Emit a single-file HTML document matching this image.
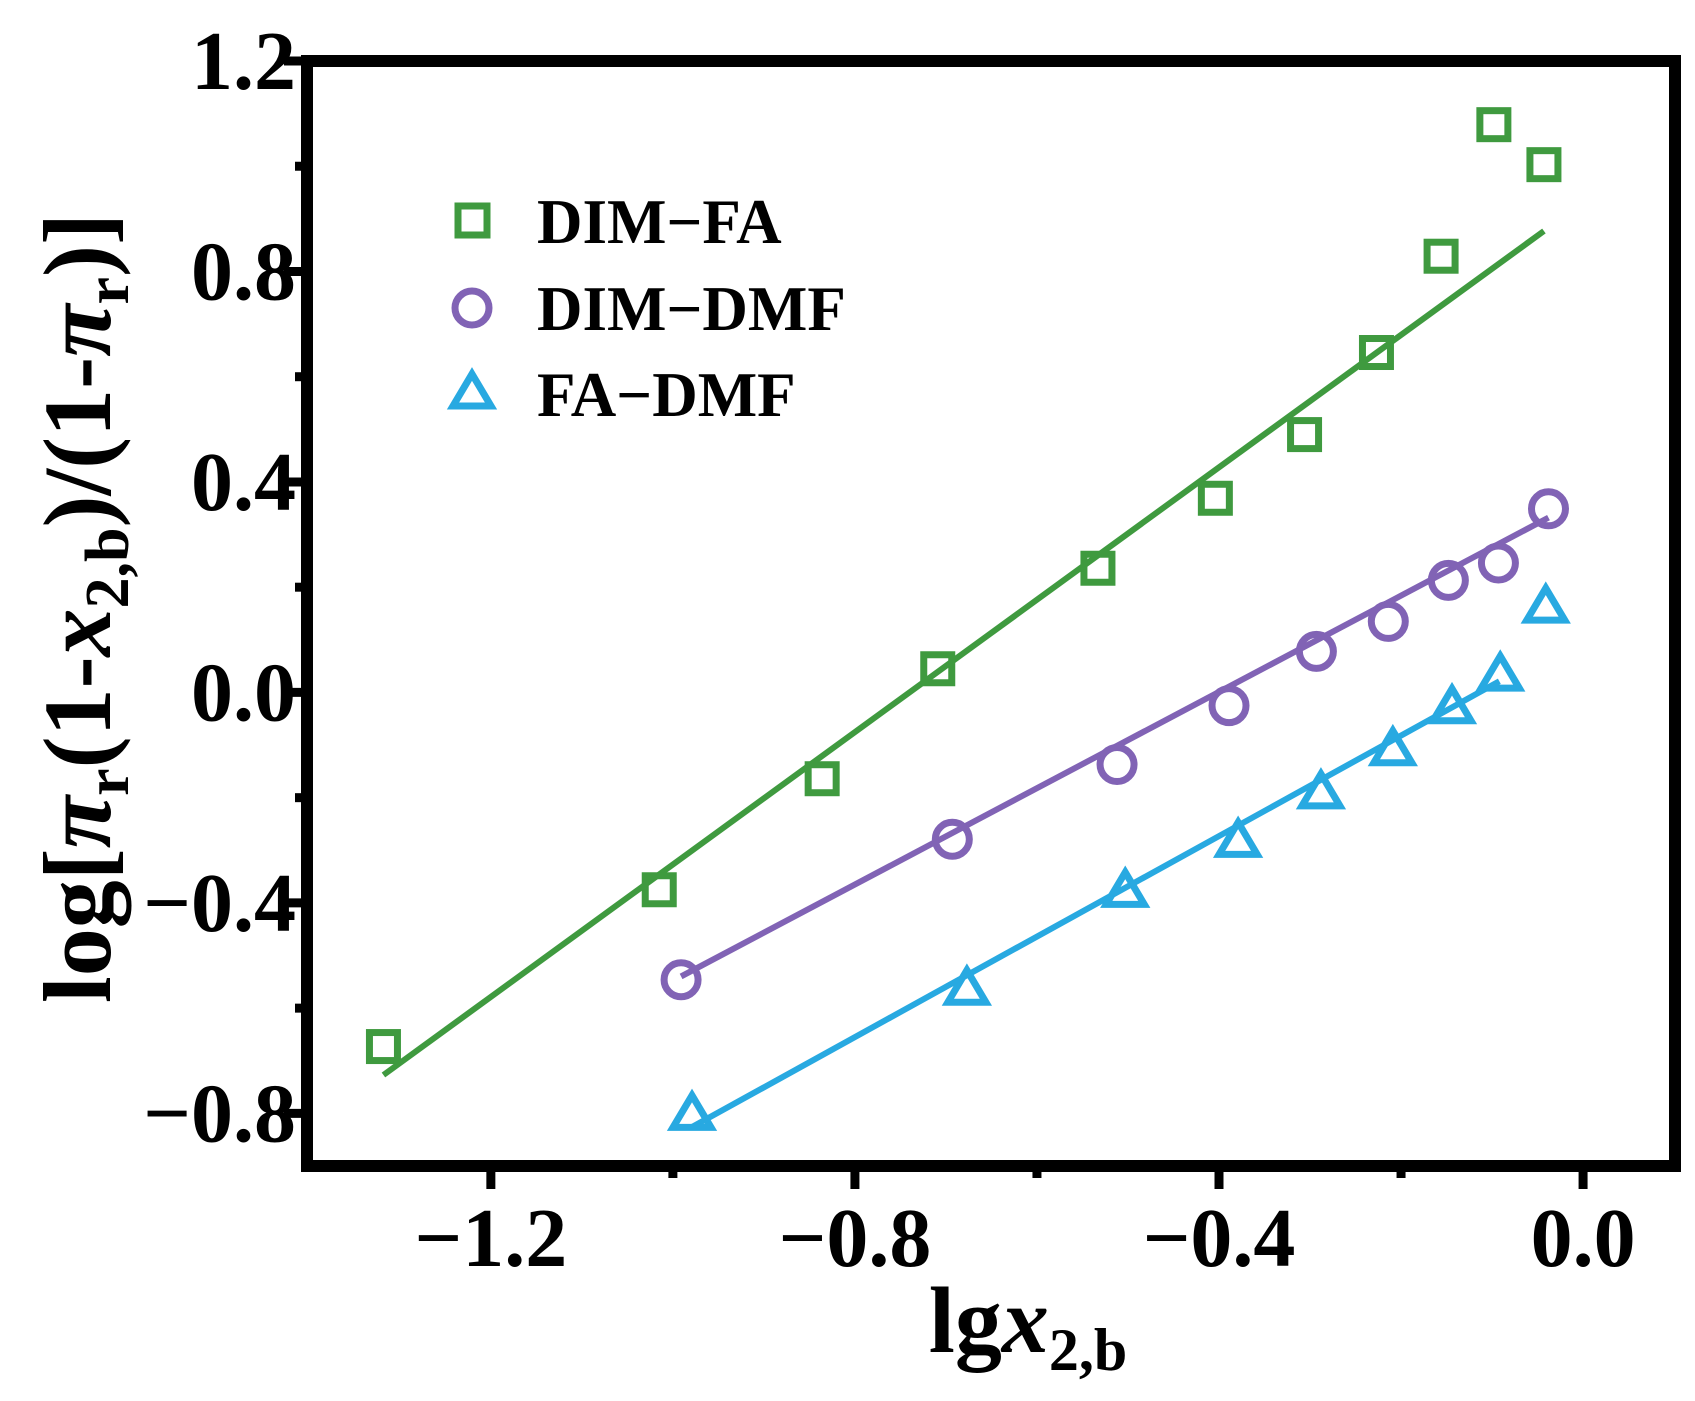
<!DOCTYPE html>
<html><head><meta charset="utf-8"><style>
html,body{margin:0;padding:0;background:#fff;}
svg{display:block;font-family:"Liberation Serif",serif;font-weight:bold;}
</style></head><body>
<svg id="chart" width="1695" height="1401" viewBox="0 0 1695 1401" xmlns="http://www.w3.org/2000/svg">
<rect x="0" y="0" width="1695" height="1401" fill="#fff"/>
<g id="marks"></g>
<g id="axes"></g>
<text transform="translate(110,608) rotate(-90)" text-anchor="middle" font-size="96">log[<tspan font-style="italic">π</tspan><tspan font-size="62" dy="18">r</tspan><tspan dy="-18">(1-</tspan><tspan font-style="italic">x</tspan><tspan font-size="62" dy="18">2,b</tspan><tspan dy="-18">)/(1-</tspan><tspan font-style="italic">π</tspan><tspan font-size="62" dy="18">r</tspan><tspan dy="-18">)]</tspan></text>
<text x="1028" y="1352" text-anchor="middle" font-size="94">lg<tspan font-style="italic">x</tspan><tspan font-size="60" dy="18">2,b</tspan></text>
<g>
<rect x="458" y="206" width="29" height="29" fill="none" stroke="#3f9a3f" stroke-width="7"/>
<text x="537" y="243" font-size="63">DIM−FA</text>
<circle cx="472" cy="308" r="17" fill="none" stroke="#8163b5" stroke-width="7"/>
<text x="537" y="330" font-size="63">DIM−DMF</text>
<polygon points="472,374 491,406 453,406" fill="none" stroke="#28a9e1" stroke-width="7"/>
<text x="537" y="416" font-size="63">FA−DMF</text>
</g>
</svg>
<script>
const xTicks = [-1.2, -0.8, -0.4, 0.0];
const xTickLabels = ["−1.2", "−0.8", "−0.4", "0.0"];
const xMinor = [-1.0, -0.6, -0.2];
const yTicks = [-0.8, -0.4, 0.0, 0.4, 0.8, 1.2];
const yTickLabels = ["−0.8", "−0.4", "0.0", "0.4", "0.8", "1.2"];
const yMinor = [-0.6, -0.2, 0.2, 0.6, 1.0];

const dimFaX = [-1.318, -1.015, -0.836, -0.709, -0.533, -0.404, -0.306, -0.227, -0.156, -0.098, -0.043];
const dimFaY = [-0.673, -0.375, -0.164, 0.045, 0.236, 0.369, 0.490, 0.646, 0.829, 1.079, 1.003];
const dimFaFit = [1.258, 0.931, -1.318, -0.043];

const dimDmfX = [-0.991, -0.693, -0.512, -0.389, -0.293, -0.214, -0.148, -0.093, -0.038];
const dimDmfY = [-0.546, -0.279, -0.137, -0.025, 0.078, 0.135, 0.213, 0.246, 0.349];
const dimDmfFit = [0.915, 0.367, -0.991, -0.038];

const faDmfX = [-0.979, -0.677, -0.503, -0.379, -0.288, -0.209, -0.144, -0.091, -0.041];
const faDmfY = [-0.802, -0.564, -0.378, -0.283, -0.191, -0.109, -0.029, 0.033, 0.162];
const faDmfFit = [0.955, 0.109, -0.979, -0.092];

const NS = "http://www.w3.org/2000/svg";
const L = 307, R = 1675, T = 61, B = 1166;
const xMin = -1.402, xMax = 0.101, yMin = -0.9, yMax = 1.2;
function sx(v){ return L + (v - xMin) / (xMax - xMin) * (R - L); }
function sy(v){ return B - (v - yMin) / (yMax - yMin) * (B - T); }
function mk(tag, attrs, parent){ const e = document.createElementNS(NS, tag); for (const k in attrs) e.setAttribute(k, attrs[k]); parent.appendChild(e); return e; }

const marks = document.getElementById('marks');
const axes = document.getElementById('axes');

function fitLine(fit, color, name){
  const ln = mk('line', {x1: sx(fit[2]), y1: sy(fit[0]*fit[2]+fit[1]), x2: sx(fit[3]), y2: sy(fit[0]*fit[3]+fit[1]), stroke: color, 'stroke-width': 6}, marks);
  
  
}
fitLine(dimFaFit, '#3f9a3f', 'fit-line-dim-fa');
fitLine(dimDmfFit, '#8163b5', 'fit-line-dim-dmf');
fitLine(faDmfFit, '#28a9e1', 'fit-line-fa-dmf');

dimFaX.forEach((x, i) => {
  const cx = sx(x), cy = sy(dimFaY[i]);
  const r = mk('rect', {x: cx-14, y: cy-14, width: 28, height: 28, fill: 'none', stroke: '#3f9a3f', 'stroke-width': 7}, marks);
  
  
});
dimDmfX.forEach((x, i) => {
  const c = mk('circle', {cx: sx(x), cy: sy(dimDmfY[i]), r: 17, fill: 'none', stroke: '#8163b5', 'stroke-width': 7}, marks);
  
  
});
faDmfX.forEach((x, i) => {
  const cx = sx(x), cy = sy(faDmfY[i]);
  const p = mk('polygon', {points: `${cx},${cy-19} ${cx+19},${cy+13} ${cx-19},${cy+13}`, fill: 'none', stroke: '#28a9e1', 'stroke-width': 7}, marks);
  
  
});

const frame = mk('rect', {x: L, y: T, width: R-L, height: B-T, fill: 'none', stroke: '#000', 'stroke-width': 12}, axes);



xTicks.forEach((v, i) => {
  const t = mk('line', {x1: sx(v), y1: B, x2: sx(v), y2: B+23, stroke: '#000', 'stroke-width': 9}, axes);
  
  
  const lb = mk('text', {x: sx(v), y: 1266, 'text-anchor': 'middle', 'font-size': 84}, axes);
  lb.textContent = xTickLabels[i];
  
  
});
xMinor.forEach(v => {
  const t = mk('line', {x1: sx(v), y1: B, x2: sx(v), y2: B+12, stroke: '#000', 'stroke-width': 9}, axes);
  
  
});
yTicks.forEach((v, i) => {
  const t = mk('line', {x1: L-23, y1: sy(v), x2: L, y2: sy(v), stroke: '#000', 'stroke-width': 9}, axes);
  
  
  const lb = mk('text', {x: 296, y: sy(v)+28, 'text-anchor': 'end', 'font-size': 84}, axes);
  lb.textContent = yTickLabels[i];
  
  
});
yMinor.forEach(v => {
  const t = mk('line', {x1: L-12, y1: sy(v), x2: L, y2: sy(v), stroke: '#000', 'stroke-width': 9}, axes);
  
  
});
</script>
</body></html>
